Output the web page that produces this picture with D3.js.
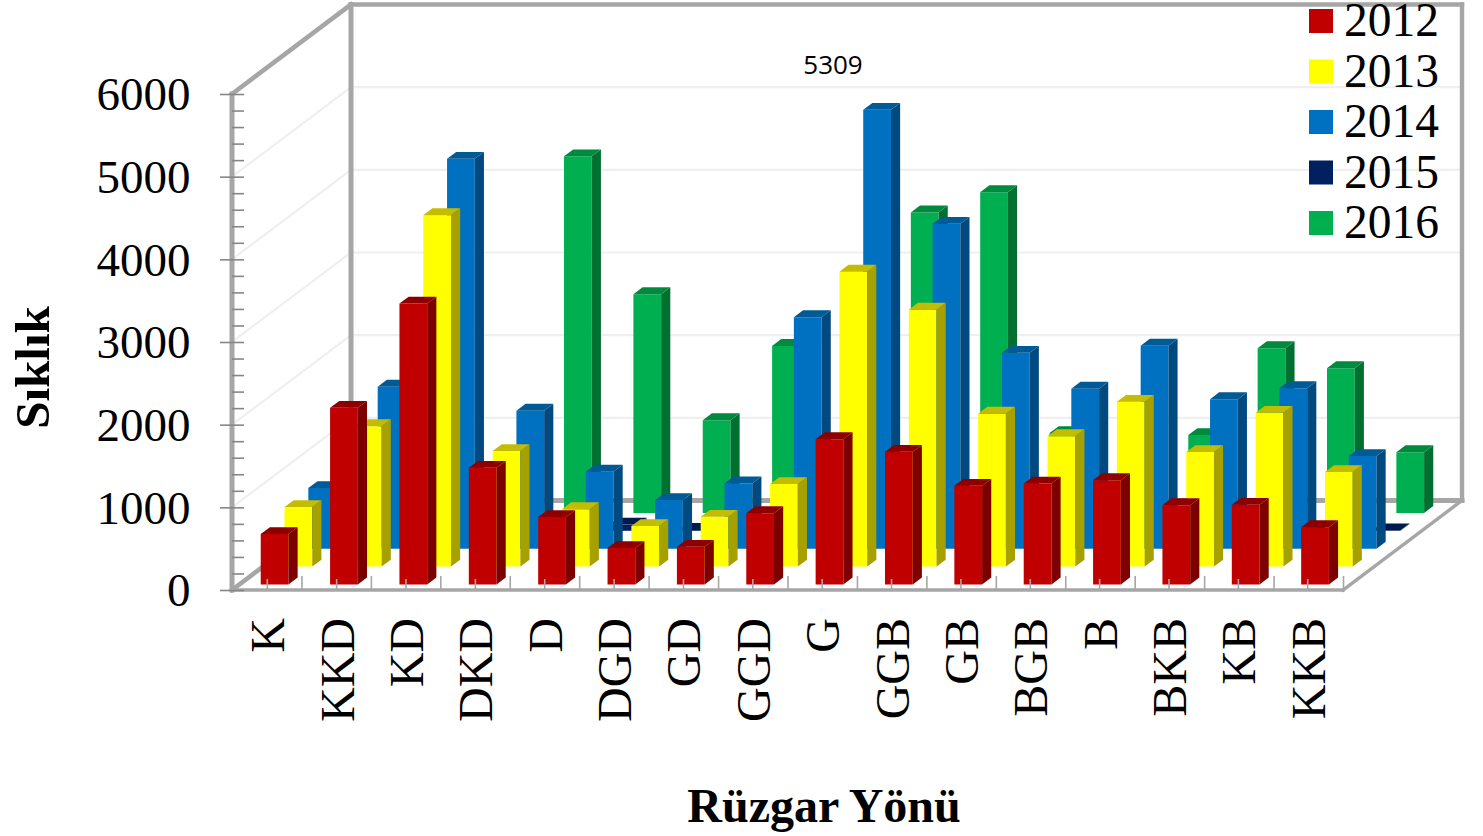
<!DOCTYPE html>
<html lang="tr">
<head>
<meta charset="utf-8">
<title>Rüzgar Yönü</title>
<script src="https://cdn.jsdelivr.net/npm/d3@7/dist/d3.min.js"></script>
<style>
  html, body { margin: 0; padding: 0; background: #fff; }
  svg { display: block; }
  text { font-family: "Liberation Serif", serif; fill: #000; }
</style>
</head>
<body>
<svg id="chart" width="1483" height="836"></svg>
<script>
// ---- data (bars fully hidden behind others are estimates) ----
const categories = ["K","KKD","KD","DKD","D","DGD","GD","GGD","G","GGB","GB","BGB","B","BKB","KB","KKB"];
const seriesNames = ["2012","2013","2014","2015","2016"];
const values2012 = [610,2137,3398,1411,815,440,456,863,1758,1605,1193,1221,1262,960,964,694];
const values2013 = [720,1699,4250,1397,695,490,602,998,3567,3108,1850,1578,1993,1385,1860,1143];
const values2014 = [733,1959,4716,1669,931,588,790,2800,5309,3930,2370,1935,2455,1809,1942,1120];
const values2015 = [10,10,10,10,75,10,10,10,10,10,10,10,10,10,10,5];
const values2016 = [700,900,500,4314,2646,1122,2019,1500,3634,3879,965,900,941,1993,1751,735];
const yTicksMajor = [0,1000,2000,3000,4000,5000,6000];
const yTicksMinor = d3.range(0, 6001, 200);
const yTitle = "Sıklık";
const xTitle = "Rüzgar Yönü";
const dataLabel = "5309";

// ---- styles ----
const faceColors = ["#C00000","#FFFF00","#0070C0","#002060","#00B050"];
const topColors  = ["#8E0000","#C4BC00","#005A96","#001A4D","#008A3E"];
const sideColors = ["#7C0000","#A6A000","#004A80","#001440","#007030"];
const wallColor = "#A6A6A6", gridColor = "#EFEFEF", tickColor = "#868686";

// ---- layout ----
const frontLeft = 232, frontRight = 1343, floorY = 590, topY = 94;
const depthDX = 119, depthDY = 89.5;
const barShare = 0.4, barDepth = 0.077;

const allValues = [values2012, values2013, values2014, values2015, values2016];
const svg = d3.select("#chart");

const x = d3.scaleBand().domain(categories).range([frontLeft + 0.6, frontRight - 0.6]);
const xEdge = d3.scaleLinear().domain([0, categories.length]).range([frontLeft, frontRight]);
const y = d3.scaleLinear().domain([0, 6000]).range([floorY, topY]);
const depth = d3.scaleBand().domain(seriesNames).range([0, 1]);

// 3-D projection: horizontal position, value, depth fraction
const project = (px, v, d) => [px + d * depthDX, y(v) - d * depthDY];
const poly = pts => pts.map(p => p.join(",")).join(" ");

// ---- walls and gridlines ----
const walls = svg.append("g");
const grid = walls.append("g").attr("stroke", gridColor).attr("stroke-width", 2.2);
yTicksMajor.filter(v => v > 0 && v < 6000).forEach(v => {
  const a = project(frontLeft, v, 0), b = project(frontLeft, v, 1), c = project(frontRight, v, 1);
  grid.append("polyline").attr("fill", "none").attr("points", poly([a, b, c]));
});
const wallLine = (a, b, w) => walls.append("line")
  .attr("x1", a[0]).attr("y1", a[1]).attr("x2", b[0]).attr("y2", b[1])
  .attr("stroke", wallColor).attr("stroke-width", w).attr("stroke-linecap", "square");
wallLine(project(frontLeft, 6000, 0), project(frontLeft, 6000, 1), 4.6);
wallLine(project(frontLeft, 6000, 1), project(frontRight, 6000, 1), 4.4);
wallLine(project(frontRight, 6000, 1), project(frontRight, 0, 1), 4.4);
wallLine(project(frontLeft, 6000, 1), project(frontLeft, 0, 1), 5);
wallLine(project(frontLeft, 0, 1), project(frontRight, 0, 1), 5);
wallLine(project(frontLeft, 0, 0), project(frontLeft, 0, 1), 4.6);
wallLine(project(frontRight, 0, 0), project(frontRight, 0, 1), 3.4);

// ---- bars, back series first ----
const barsRoot = svg.append("g");
seriesNames.map((name, i) => i).reverse().forEach(si => {
  const name = seriesNames[si];
  const d0 = depth(name) + (depth.bandwidth() - barDepth) / 2;
  const d1 = d0 + barDepth;
  const w = x.bandwidth() * barShare;
  const g = barsRoot.append("g").attr("class", "series-" + name);
  const rows = allValues[si].map((v, i) => ({ cat: categories[i], v }));
  const bar = g.selectAll("g").data(rows).join("g");
  const left = r => x(r.cat) + (x.bandwidth() - w) / 2;
  bar.append("polygon").attr("fill", faceColors[si]).attr("points", r => poly([
    project(left(r), 0, d0), project(left(r) + w, 0, d0),
    project(left(r) + w, r.v, d0), project(left(r), r.v, d0)]));
  bar.append("polygon").attr("fill", sideColors[si]).attr("points", r => poly([
    project(left(r) + w, 0, d0), project(left(r) + w, 0, d1),
    project(left(r) + w, r.v, d1), project(left(r) + w, r.v, d0)]));
  bar.append("polygon").attr("fill", topColors[si]).attr("points", r => poly([
    project(left(r), r.v, d0), project(left(r) + w, r.v, d0),
    project(left(r) + w, r.v, d1), project(left(r), r.v, d1)]));
});

// ---- front floor line and axes ----
wallLine(project(frontLeft, 0, 0), project(frontRight, 0, 0), 3.4);
wallLine(project(frontLeft, 6000, 0), project(frontLeft, 0, 0), 5);

const yMinor = svg.append("g").attr("transform", `translate(${frontLeft},0)`)
  .call(d3.axisRight(y).tickValues(yTicksMinor).tickSize(12).tickFormat(""));
const yMajor = svg.append("g").attr("transform", `translate(${frontLeft},0)`)
  .call(d3.axisLeft(y).tickValues(yTicksMajor).tickSize(12).tickPadding(29.5).tickFormat(d3.format("d")));
[yMinor, yMajor].forEach(a => {
  a.select(".domain").remove();
  a.selectAll("line").attr("stroke", tickColor).attr("stroke-width", 1.6);
});
yMajor.selectAll("text").style("font-family", '"Liberation Serif", serif')
  .style("font-size", "47px").attr("dy", "0.34em");

const xEdges = svg.append("g").attr("transform", `translate(0,${floorY})`)
  .call(d3.axisTop(xEdge).tickValues(d3.range(0, categories.length + 1)).tickSize(14).tickFormat(""));
xEdges.select(".domain").remove();
xEdges.selectAll("line").attr("stroke", wallColor).attr("stroke-width", 1.6);

const xAxis = svg.append("g").attr("transform", `translate(0,${floorY})`)
  .call(d3.axisBottom(x).tickSizeInner(-11).tickSizeOuter(0));
xAxis.select(".domain").remove();
xAxis.selectAll("line").attr("stroke", wallColor).attr("stroke-width", 1.6);
xAxis.selectAll("text")
  .attr("x", 0).attr("y", 0).attr("dy", 0)
  .attr("transform", "translate(17,28) rotate(-90)")
  .attr("text-anchor", "end")
  .style("font-family", '"Liberation Serif", serif').style("font-size", "48px");

// ---- titles ----
svg.append("text").attr("transform", "translate(49,367.5) rotate(-90)")
  .attr("text-anchor", "middle").attr("font-size", 49).attr("font-weight", "bold").text(yTitle);
svg.append("text").attr("x", 824).attr("y", 822)
  .attr("text-anchor", "middle").attr("font-size", 48).attr("font-weight", "bold").text(xTitle);

// ---- lone data label ----
svg.append("text").attr("x", 833).attr("y", 73.5).attr("text-anchor", "middle")
  .style("font-family", '"Open Sans", sans-serif').attr("font-size", 26).text(dataLabel);

// ---- legend ----
const legendY = d3.scalePoint().domain(seriesNames).range([9, 211]);
const legend = svg.append("g").selectAll("g").data(seriesNames).join("g")
  .attr("transform", d => `translate(1309,${legendY(d)})`);
legend.append("rect").attr("width", 24).attr("height", 24)
  .attr("fill", (d, i) => faceColors[i]);
legend.append("text").attr("x", 35).attr("y", 27).attr("font-size", 47.5).text(d => d);
</script>
</body>
</html>
